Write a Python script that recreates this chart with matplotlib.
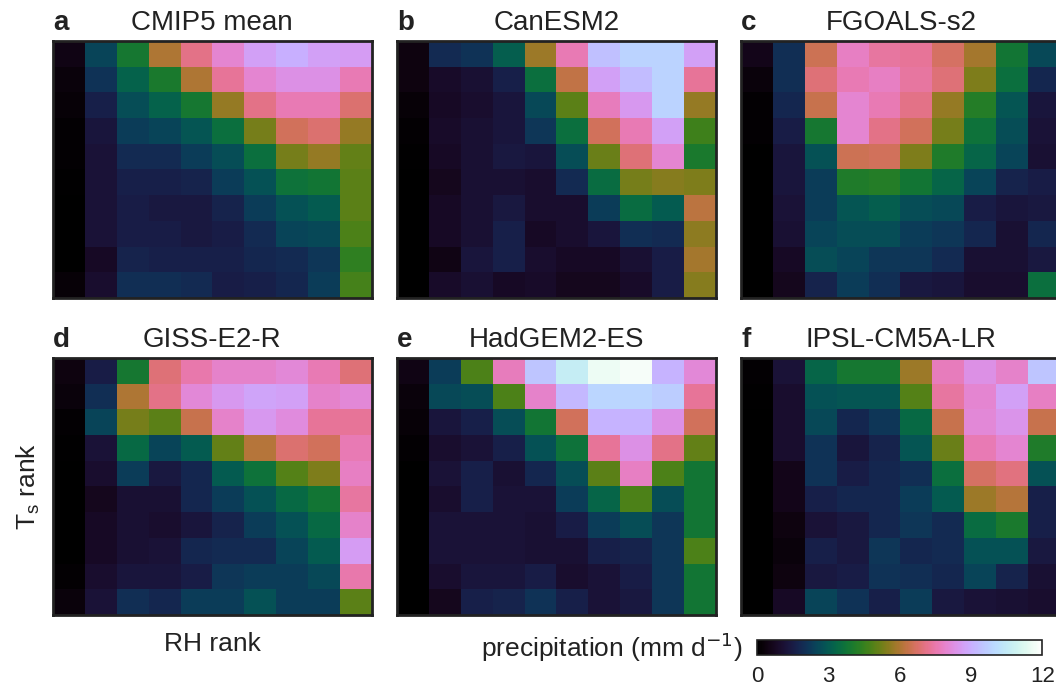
import numpy as np
import matplotlib
matplotlib.use("Agg")
import matplotlib.pyplot as plt
from matplotlib.colors import ListedColormap

plt.rcParams['font.family'] = ['Liberation Sans', 'DejaVu Sans']

letters = ['a', 'b', 'c', 'd', 'e', 'f']
models = ['CMIP5 mean', 'CanESM2', 'FGOALS-s2', 'GISS-E2-R', 'HadGEM2-ES', 'IPSL-CM5A-LR']
cbar_ticks = [0, 3, 6, 9, 12]

# precipitation (mm/day), rows = Ts rank from top (high) to bottom, cols = RH rank low -> high
cmip5_mean = [
    [0.5, 2.5, 3.9, 6.0, 7.1, 8.0, 8.7, 9.0, 8.7, 8.6],
    [0.3, 2.1, 3.2, 4.0, 6.0, 7.3, 8.0, 8.3, 8.3, 7.6],
    [0.2, 1.6, 2.7, 3.2, 3.9, 5.7, 7.1, 7.6, 7.6, 6.8],
    [0.1, 1.3, 2.3, 2.5, 2.9, 3.6, 5.3, 6.6, 6.8, 5.7],
    [0.1, 1.2, 1.9, 1.9, 2.3, 2.7, 3.6, 5.3, 5.7, 5.1],
    [0.05, 1.2, 1.6, 1.6, 1.7, 2.3, 2.8, 3.7, 3.8, 5.0],
    [0.0, 1.2, 1.5, 1.4, 1.4, 1.7, 2.3, 2.8, 3.0, 5.0],
    [0.0, 1.2, 1.5, 1.5, 1.4, 1.5, 1.9, 2.5, 2.6, 4.8],
    [0.0, 0.8, 1.7, 1.6, 1.6, 1.6, 1.8, 1.9, 2.2, 4.4],
    [0.2, 1.0, 2.0, 2.0, 1.9, 1.5, 1.6, 1.8, 2.3, 4.7],
]
canesm2 = [
    [0.4, 1.9, 2.1, 3.1, 5.8, 7.6, 9.4, 9.8, 9.8, 8.7],
    [0.4, 0.9, 1.1, 1.6, 3.6, 6.3, 8.7, 9.3, 9.8, 7.3],
    [0.2, 0.8, 1.0, 1.3, 2.6, 5.0, 7.7, 8.5, 9.8, 5.7],
    [0.1, 0.9, 1.1, 1.3, 2.2, 3.6, 6.6, 7.6, 8.7, 4.6],
    [0.05, 0.8, 1.1, 1.4, 1.3, 2.7, 5.2, 6.9, 8.0, 4.0],
    [0.0, 0.7, 1.1, 1.1, 1.0, 1.9, 3.5, 5.3, 5.5, 5.4],
    [0.0, 0.8, 1.1, 1.4, 1.0, 1.0, 2.3, 3.5, 3.0, 6.2],
    [0.0, 0.8, 1.1, 1.6, 0.8, 1.0, 1.3, 2.0, 1.9, 5.6],
    [0.0, 0.5, 1.3, 1.6, 1.0, 0.8, 0.8, 1.1, 1.5, 5.9],
    [0.0, 0.9, 1.1, 0.8, 0.9, 0.7, 0.7, 0.9, 1.5, 5.5],
]
fgoals_s2 = [
    [0.6, 2.0, 6.5, 7.8, 7.4, 7.3, 6.7, 5.9, 3.8, 2.6],
    [0.3, 2.0, 6.9, 7.6, 7.8, 7.4, 6.9, 5.4, 3.6, 1.8],
    [0.1, 1.8, 6.4, 8.0, 7.6, 7.1, 5.7, 4.2, 2.9, 1.3],
    [0.1, 1.5, 3.9, 8.0, 7.1, 6.6, 5.3, 3.7, 2.7, 1.2],
    [0.0, 1.3, 2.8, 6.5, 6.6, 5.4, 4.1, 3.3, 2.5, 1.1],
    [0.0, 1.3, 2.3, 4.1, 4.2, 3.8, 3.3, 2.5, 1.7, 1.5],
    [0.0, 1.2, 2.3, 2.9, 3.1, 2.7, 2.6, 1.5, 1.3, 1.4],
    [0.0, 1.1, 2.5, 2.7, 2.7, 2.3, 2.2, 1.8, 1.1, 1.8],
    [0.0, 0.8, 2.7, 2.5, 2.2, 2.2, 1.9, 1.1, 1.1, 1.4],
    [0.0, 0.7, 1.7, 2.3, 2.0, 1.4, 1.3, 1.0, 1.0, 3.6],
]
giss_e2_r = [
    [0.4, 1.5, 3.9, 6.9, 7.5, 7.9, 7.9, 8.1, 7.6, 6.9],
    [0.3, 2.0, 6.0, 7.1, 8.1, 8.5, 8.8, 8.7, 7.9, 8.1],
    [0.1, 2.5, 5.3, 5.0, 6.4, 7.9, 8.5, 8.2, 7.3, 7.3],
    [0.05, 1.2, 3.4, 2.5, 3.0, 5.1, 6.1, 6.8, 6.6, 7.6],
    [0.0, 1.0, 2.3, 1.4, 1.8, 3.0, 3.7, 4.9, 5.4, 7.8],
    [0.0, 0.7, 1.1, 1.1, 1.8, 2.3, 2.8, 3.4, 3.8, 7.4],
    [0.0, 0.8, 1.1, 1.0, 1.3, 1.7, 2.3, 2.8, 3.4, 7.9],
    [0.0, 0.8, 1.1, 1.2, 1.8, 1.9, 1.9, 2.5, 3.0, 8.6],
    [0.1, 1.0, 1.3, 1.3, 1.5, 2.2, 2.3, 2.3, 2.6, 7.5],
    [0.3, 1.2, 2.0, 1.8, 2.3, 2.3, 2.8, 2.3, 2.3, 5.0],
]
hadgem2_es = [
    [0.5, 2.3, 4.8, 7.7, 9.5, 10.6, 11.6, 11.8, 9.1, 8.1],
    [0.3, 2.6, 2.7, 4.8, 7.9, 9.2, 9.9, 9.9, 9.7, 7.3],
    [0.2, 1.3, 1.6, 2.7, 3.8, 6.6, 9.1, 9.1, 8.3, 6.6],
    [0.1, 1.0, 1.2, 1.6, 2.8, 3.7, 7.3, 8.3, 7.1, 5.1],
    [0.0, 1.2, 1.6, 1.1, 1.8, 2.7, 5.0, 7.8, 4.8, 3.8],
    [0.0, 1.0, 1.6, 1.2, 1.2, 2.3, 3.3, 4.8, 2.7, 3.8],
    [0.0, 1.2, 1.2, 1.2, 1.1, 1.5, 2.3, 2.7, 2.2, 3.8],
    [0.0, 1.2, 1.2, 1.2, 1.1, 1.1, 1.6, 1.7, 2.2, 4.8],
    [0.0, 1.0, 1.3, 1.3, 1.5, 1.0, 1.2, 1.5, 2.2, 3.8],
    [0.0, 0.7, 1.6, 1.7, 2.1, 1.6, 1.2, 1.4, 2.2, 3.8],
]
ipsl_cm5a_lr = [
    [0.1, 1.2, 3.3, 3.9, 3.9, 5.8, 7.7, 8.3, 7.9, 9.5],
    [0.05, 1.0, 2.8, 2.9, 2.9, 4.9, 7.4, 8.0, 8.7, 7.8],
    [0.0, 1.0, 2.6, 1.8, 2.2, 3.4, 6.4, 8.1, 8.4, 6.4],
    [0.0, 1.0, 2.1, 1.3, 1.7, 2.9, 5.2, 7.6, 8.0, 4.1],
    [0.0, 0.6, 2.1, 1.5, 1.8, 2.0, 3.6, 6.7, 7.0, 2.8],
    [0.0, 0.6, 1.6, 1.8, 1.8, 2.3, 3.0, 5.8, 6.1, 1.6],
    [0.0, 0.4, 1.2, 1.4, 1.8, 2.2, 1.9, 3.5, 4.0, 1.6],
    [0.0, 0.3, 1.6, 1.4, 2.2, 1.8, 1.9, 2.8, 2.8, 1.4],
    [0.0, 0.4, 1.4, 1.5, 2.1, 2.0, 1.8, 2.5, 1.7, 1.1],
    [0.0, 0.8, 2.5, 2.1, 1.6, 2.3, 1.4, 1.2, 1.1, 1.0],
]

grids = [cmip5_mean, canesm2, fgoals_s2, giss_e2_r, hadgem2_es, ipsl_cm5a_lr]


def cubehelix_cmap(start=0.5, rot=-1.5, hue=1.4, n=256):
    # Green (2011) cubehelix, a bit more saturated than matplotlib's default
    x = np.linspace(0, 1, n)
    a = hue * x * (1 - x) / 2
    phi = 2 * np.pi * (start / 3 + rot * x)
    r = x + a * (-0.14861 * np.cos(phi) + 1.78277 * np.sin(phi))
    g = x + a * (-0.29227 * np.cos(phi) - 0.90649 * np.sin(phi))
    b = x + a * (1.97294 * np.cos(phi))
    return ListedColormap(np.clip(np.column_stack([r, g, b]), 0, 1))


cmap = cubehelix_cmap()

fig = plt.figure(figsize=(10.56, 6.87), dpi=100)

lefts = [0.050, 0.376, 0.702]
bottoms = [0.566, 0.105]
w, h = 0.302, 0.374

axes = []
for i, grid in enumerate(grids):
    ax = fig.add_axes([lefts[i % 3], bottoms[i // 3], w, h])
    im = ax.imshow(np.array(grid), cmap=cmap, vmin=0, vmax=12,
                   aspect='auto', interpolation='nearest')
    ax.set_xticks([])
    ax.set_yticks([])
    for sp in ax.spines.values():
        sp.set_color('#222222')
        sp.set_linewidth(2.0)
    ax.set_title(models[i], fontsize=20, color='#222222', pad=8)
    ax.annotate(letters[i], xy=(0, 1), xycoords='axes fraction',
                xytext=(0, 8), textcoords='offset points',
                fontsize=20, fontweight='bold', color='#222222',
                ha='left', va='baseline')
    axes.append(ax)

axes[3].set_xlabel('RH rank', fontsize=19, color='#222222', labelpad=12)
axes[3].set_ylabel('T$_\\mathregular{s}$ rank', fontsize=19, color='#222222', labelpad=8)

cax = fig.add_axes([0.717, 0.047, 0.270, 0.022])
cb = fig.colorbar(im, cax=cax, orientation='horizontal', ticks=cbar_ticks)
cb.outline.set_edgecolor('#222222')
cb.outline.set_linewidth(1.2)
cax.tick_params(length=0, labelsize=16, colors='#222222', pad=8)
fig.text(0.703, 0.058, 'precipitation (mm d$^{-1}$)', fontsize=19, color='#222222',
         ha='right', va='center')

fig.savefig('out.png', dpi=100)
